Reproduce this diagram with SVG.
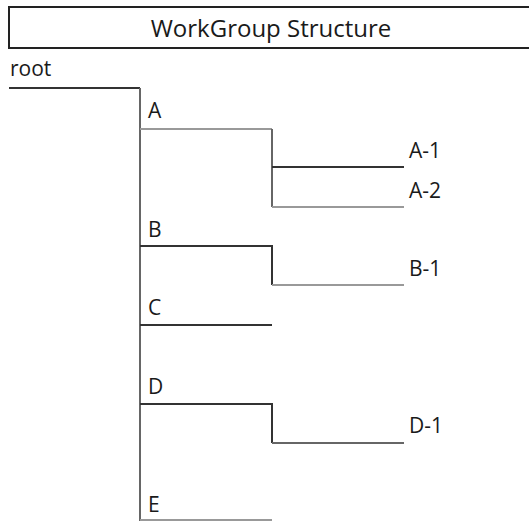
<svg xmlns="http://www.w3.org/2000/svg" width="529" height="522" viewBox="0 0 529 522">
<style>
text{font-family:"Open Sans","Liberation Sans",sans-serif;fill:#1a1a1a}
.lbl{font-size:21px}
.ttl{font-size:24px}
.dk{fill:none;stroke:#333;stroke-width:2}
.md{fill:none;stroke:#666;stroke-width:2}
.lt{fill:none;stroke:#999;stroke-width:2}
</style>
<rect width="529" height="522" fill="#fff"/>
<g id="title">
<rect x="9" y="7" width="530" height="41" fill="#fff" stroke="#222" stroke-width="2"/>
<text class="ttl" x="271" y="37" text-anchor="middle">WorkGroup Structure</text>
</g>
<g id="connectors">
<path class="dk" d="M9 88H140"/>
<path class="md" d="M140 88V521"/>
<path class="lt" d="M140 129H272"/>
<path class="md" d="M272 129V207"/>
<path class="dk" d="M272 167H404"/>
<path class="lt" d="M272 207H404"/>
<path class="dk" d="M140 246H272V285"/>
<path class="lt" d="M272 285H404"/>
<path class="dk" d="M140 325H272"/>
<path class="dk" d="M140 404H272V443"/>
<path class="md" d="M272 443H404"/>
<path class="lt" d="M140 520H272"/>
</g>
<g id="root"><text class="lbl" x="10" y="76">root</text></g>
<g id="A"><text class="lbl" x="148" y="118">A</text></g>
<g id="A-1"><text class="lbl" x="409" y="158">A-1</text></g>
<g id="A-2"><text class="lbl" x="409" y="198">A-2</text></g>
<g id="B"><text class="lbl" x="148" y="237">B</text></g>
<g id="B-1"><text class="lbl" x="409" y="276">B-1</text></g>
<g id="C"><text class="lbl" x="148" y="315">C</text></g>
<g id="D"><text class="lbl" x="148" y="394">D</text></g>
<g id="D-1"><text class="lbl" x="409" y="433">D-1</text></g>
<g id="E"><text class="lbl" x="148" y="512">E</text></g>
</svg>
